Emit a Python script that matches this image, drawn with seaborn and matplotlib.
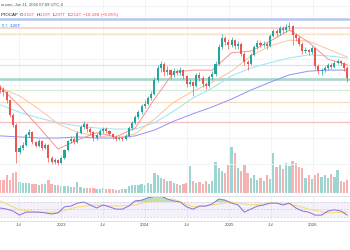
import numpy as np
import pandas as pd
import seaborn as sns
import matplotlib.pyplot as plt

sns.set_theme(style="white")
plt.rcParams['font.family'] = ['Liberation Sans', 'DejaVu Sans']

# two-week candles, prices in T
dates = pd.date_range("2022-04-10", periods=109, freq="14D")
first_open = 1.95
closes = [1.91, 1.87, 1.72, 1.44, 1.25, 0.73, 0.81, 0.87, 1.06, 1.11,
          0.92, 0.85, 0.94, 0.81, 0.87, 0.62, 0.54, 0.58, 0.52, 0.62,
          0.77, 0.94, 0.98, 0.92, 1.10, 1.21, 1.27, 1.17, 1.11, 1.00,
          1.06, 1.13, 1.17, 1.13, 1.08, 1.02, 0.98, 1.00, 0.98, 1.04,
          1.19, 1.29, 1.40, 1.49, 1.61, 1.65, 1.76, 1.84, 2.10, 2.33,
          2.41, 2.25, 2.29, 2.20, 2.27, 2.24, 2.29, 2.18, 2.03, 2.06,
          1.99, 2.20, 2.14, 2.03, 1.99, 2.16, 2.22, 2.41, 2.73, 2.90,
          2.82, 2.77, 2.86, 2.75, 2.79, 2.60, 2.44, 2.41, 2.58, 2.73,
          2.81, 2.77, 2.79, 2.75, 2.94, 3.03, 2.99, 3.09, 3.05, 3.11,
          3.13, 2.96, 2.90, 2.79, 2.65, 2.67, 2.63, 2.71, 2.37, 2.27,
          2.29, 2.33, 2.39, 2.35, 2.43, 2.46, 2.43, 2.33, 2.14]
highs = [2.00, 1.96, 1.90, 1.75, 1.48, 1.28, 0.86, 0.92, 1.10, 1.17,
         1.13, 0.95, 0.98, 0.97, 0.91, 0.89, 0.66, 0.62, 0.60, 0.65,
         0.80, 0.97, 1.03, 1.01, 1.13, 1.25, 1.32, 1.29, 1.20, 1.14,
         1.10, 1.17, 1.21, 1.20, 1.15, 1.10, 1.05, 1.03, 1.02, 1.07,
         1.22, 1.33, 1.44, 1.53, 1.65, 1.72, 1.80, 1.89, 2.15, 2.38,
         2.47, 2.44, 2.36, 2.32, 2.33, 2.31, 2.35, 2.31, 2.20, 2.12,
         2.09, 2.24, 2.26, 2.17, 2.07, 2.20, 2.27, 2.46, 2.78, 2.97,
         2.94, 2.88, 2.92, 2.89, 2.85, 2.82, 2.63, 2.49, 2.62, 2.77,
         2.86, 2.85, 2.84, 2.83, 2.98, 3.08, 3.07, 3.13, 3.12, 3.16,
         3.20, 3.15, 3.00, 2.93, 2.82, 2.72, 2.70, 2.75, 2.73, 2.40,
         2.33, 2.37, 2.43, 2.42, 2.47, 2.50, 2.49, 2.45, 2.36]
lows = [1.86, 1.80, 1.66, 1.40, 1.20, 0.52, 0.70, 0.78, 0.85, 1.02,
        0.89, 0.82, 0.83, 0.78, 0.79, 0.55, 0.50, 0.51, 0.49, 0.50,
        0.60, 0.75, 0.90, 0.88, 0.90, 1.07, 1.17, 1.12, 1.07, 0.95,
        0.97, 1.03, 1.10, 1.09, 1.04, 0.99, 0.95, 0.96, 0.95, 0.96,
        1.02, 1.16, 1.26, 1.37, 1.46, 1.57, 1.62, 1.72, 1.82, 2.07,
        2.26, 2.18, 2.20, 2.13, 2.16, 2.19, 2.20, 2.12, 1.97, 1.98,
        1.80, 1.96, 2.08, 1.97, 1.94, 1.96, 2.11, 2.18, 2.38, 2.70,
        2.76, 2.70, 2.72, 2.69, 2.70, 2.55, 2.38, 2.29, 2.38, 2.55,
        2.70, 2.72, 2.73, 2.70, 2.72, 2.91, 2.94, 2.96, 3.00, 3.02,
        3.06, 2.77, 2.84, 2.74, 2.60, 2.61, 2.58, 2.60, 2.32, 2.22,
        2.20, 2.26, 2.30, 2.31, 2.33, 2.40, 2.38, 2.28, 2.07]
volumes = [130, 130, 180, 130, 200, 210, 110, 100, 100, 100,
           90, 90, 80, 90, 90, 130, 90, 80, 80, 70,
           70, 70, 60, 60, 110, 60, 50, 50, 50, 50,
           40, 40, 50, 40, 40, 40, 30, 30, 40, 40,
           70, 80, 80, 80, 90, 80, 100, 90, 200, 180,
           150, 140, 120, 120, 100, 90, 80, 90, 100, 270,
           120, 100, 110, 90, 120, 90, 120, 310, 250, 220,
           200, 280, 460, 400, 250, 220, 280, 200, 150, 180,
           130, 150, 120, 180, 140, 400, 260, 280, 240, 300,
           270, 320, 300, 260, 250, 150, 180, 140, 180, 200,
           160, 180, 150, 190, 160, 230, 120, 110, 130]

# moving averages read every 6 candles
ma_fast = [1.97, 1.61, 1.21, 0.79, 0.96, 1.10, 1.02, 1.19, 1.74, 2.25,
           2.29, 2.29, 2.62, 2.65, 2.84, 3.05, 2.82, 2.50, 2.39]
ma_mid = [1.95, 1.80, 1.55, 1.27, 1.11, 1.04, 1.00, 1.08, 1.36, 1.68,
          1.89, 2.06, 2.27, 2.56, 2.75, 2.86, 2.84, 2.69, 2.54]
ma_slow = [1.63, 1.49, 1.38, 1.29, 1.23, 1.19, 1.17, 1.17, 1.29, 1.51,
           1.76, 1.95, 2.18, 2.33, 2.43, 2.52, 2.58, 2.56, 2.52]
ma_long = [1.04, 1.02, 1.00, 1.00, 1.02, 1.00, 1.00, 1.04, 1.15, 1.32,
           1.46, 1.59, 1.74, 1.91, 2.06, 2.20, 2.27, 2.29, 2.29]

# RSI every 2 candles, its average every 6
rsi = [54, 51, 46, 35, 43, 43, 43, 41, 38, 41, 57, 59, 67, 70, 62,
       54, 62, 57, 51, 51, 59, 73, 75, 81, 85, 86, 78, 73, 70, 57,
       51, 59, 59, 65, 78, 75, 67, 62, 43, 51, 59, 62, 67, 67, 62,
       67, 54, 46, 43, 35, 35, 46, 49, 46, 35]
rsi_ma = [73, 49, 43, 43, 57, 62, 59, 62, 75, 78, 57, 62, 70, 62, 67,
          65, 51, 41, 43]

levels = [3.26, 3.09, 2.98, 2.39, 2.12, 1.91, 1.68, 1.30]
level_colors = ['#b6c6f4', '#f6c9c9', '#fbe3c8', '#c9ecf1', '#a9d6cd',
                '#d6ecd8', '#fbdcc0', '#f6c3c3']
level_widths = [1.8, 1.1, 1.0, 0.9, 1.9, 0.9, 0.9, 1.0]

tick_dates = pd.to_datetime(["2022-07-01", "2023-01-01", "2023-07-01", "2024-01-01",
                             "2024-07-01", "2025-01-01", "2025-07-01", "2026-01-01"])
tick_labels = ["Jul", "2023", "Jul", "2024", "Jul", "2025", "Jul", "2026"]

up_c, dn_c = '#26a69a', '#ef5350'
opens = [first_open] + closes[:-1]
df = pd.DataFrame({"date": dates, "open": opens, "close": closes,
                   "high": highs, "low": lows, "volume": volumes})
df["up"] = df["close"] >= df["open"]
df["color"] = np.where(df["up"], up_c, dn_c)

fig = plt.figure(figsize=(3.5, 2.5), dpi=100)
ax = fig.add_axes([0, 56 / 250, 1, 194 / 250])
axv = ax.twinx()
axr = fig.add_axes([0, 29 / 250, 1, 25 / 250])
xmin, xmax = pd.Timestamp("2022-04-09"), pd.Timestamp("2026-06-12")

# volume behind price
axv.bar(df["date"], df["volume"], width=10, color=df["color"], alpha=0.45, linewidth=0)
axv.set_ylim(-10, 1930)
axv.set_yticks([])
ax.set_zorder(axv.get_zorder() + 1)
ax.patch.set_visible(False)

for lv, c, w in zip(levels, level_colors, level_widths):
    ax.axhline(lv, color=c, lw=w, zorder=1)

ma_dates = dates[::6]
for vals, c in [(ma_long, '#9393f0'), (ma_slow, '#9be4ef'), (ma_mid, '#f9c59e'), (ma_fast, '#f39590')]:
    sns.lineplot(x=ma_dates, y=vals, ax=ax, color=c, linewidth=0.7, zorder=2)

ax.vlines(df["date"], df["low"], df["high"], colors=df["color"], linewidth=0.5, zorder=3)
body = (df["close"] - df["open"]).abs().clip(lower=0.008)
ax.bar(df["date"], body, bottom=df[["open", "close"]].min(axis=1), width=9,
       color=df["color"], linewidth=0, zorder=4)

ax.set_xlim(xmin, xmax)
ax.set_ylim(-0.064, 3.622)
ax.set_xticks(tick_dates)
ax.set_yticks([0.5, 1.0, 1.5, 2.0, 2.5, 3.0, 3.5])
ax.grid(True, color='#f1f3f7', lw=0.6)
ax.tick_params(labelbottom=False, labelleft=False, length=0)
for s in ax.spines.values():
    s.set_visible(False)
for s in axv.spines.values():
    s.set_visible(False)
ax.set_xlabel("")
ax.set_ylabel("")

# RSI pane
rsi_dates = dates[::2]
axr.axhspan(30, 70, color='#7e57c2', alpha=0.08, lw=0)
for lv in (70, 50, 30):
    axr.axhline(lv, color='#b8b8c8', lw=0.4, ls=(0, (3, 3)))
r = np.array(rsi, dtype=float)
axr.fill_between(rsi_dates, 70, r, where=r > 70, interpolate=True, color='#4caf50', alpha=0.4, lw=0)
sns.lineplot(x=ma_dates, y=rsi_ma, ax=axr, color='#f3dd6a', linewidth=0.7)
sns.lineplot(x=rsi_dates, y=rsi, ax=axr, color='#8a6fd4', linewidth=0.7)
axr.set_xlim(xmin, xmax)
axr.set_ylim(19.3, 86)
axr.set_yticks([])
axr.set_xticks(tick_dates)
axr.set_xticklabels(tick_labels)
axr.grid(True, axis='x', color='#eff1f6', lw=0.6)
axr.tick_params(axis='x', length=0, pad=1.2, labelsize=3.2, colors='#4a4e5a')
axr.set_xlabel("")
axr.set_ylabel("")
for k, s in axr.spines.items():
    s.set_visible(k in ("top", "bottom"))
    s.set_color('#dfe2ea')
    s.set_linewidth(0.7)

# header lines
rend = fig.canvas.get_renderer()


def put_line(pieces, y, size):
    x = 0.002
    for txt, c, gap in pieces:
        t = fig.text(x, 1 - y / 250, txt, color=c, fontsize=size, va='center', ha='left')
        x += t.get_window_extent(renderer=rend).width / fig.bbox.width + gap / 350


put_line([("w.com, Jun 11, 2026 07:09 UTC-4", '#50535e', 0)], 5, 3.0)
red, dark = '#ef5350', '#131722'
put_line([("PTOCAP", dark, 1.6), ("O", dark, 0.3), ("2.16T", red, 1.3),
          ("H", dark, 0.3), ("2.19T", red, 1.3), ("L", dark, 0.3), ("2.07T", red, 1.3),
          ("C", dark, 0.3), ("2.14T", red, 1.3), ("\u221218.39B (\u22120.85%)", red, 0)], 15, 3.2)
put_line([("71T", '#26c6da', 1.5), ("3.26T", '#2962ff', 0)], 26, 3.2)

fig.savefig("out.png", dpi=100)
